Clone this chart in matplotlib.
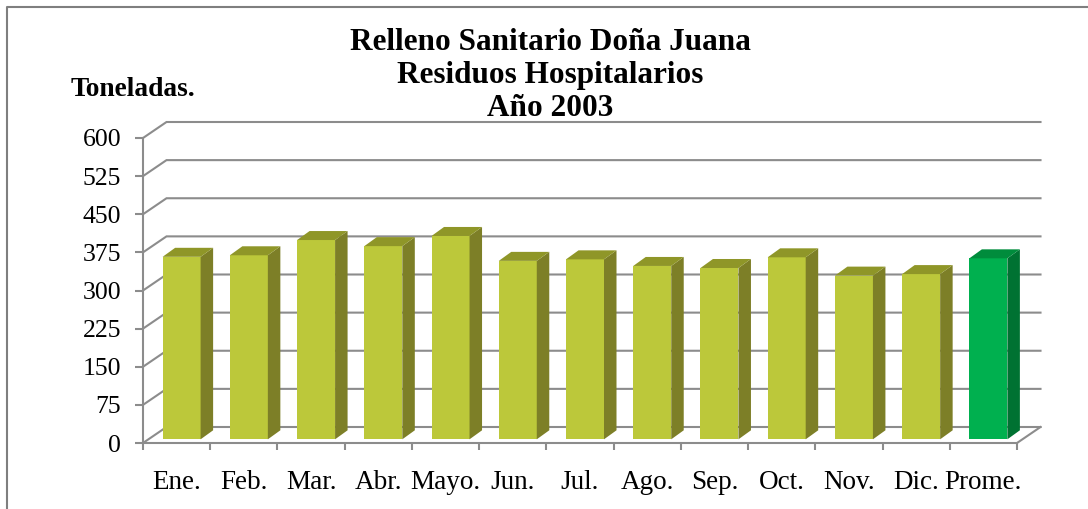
import matplotlib
matplotlib.use("Agg")
import matplotlib.pyplot as plt
from matplotlib.lines import Line2D

months = ["Ene.", "Feb.", "Mar.", "Abr.", "Mayo.", "Jun.", "Jul.", "Ago.", "Sep.", "Oct.", "Nov.", "Dic.", "Prome."]
tons = [359, 362, 392, 380, 400, 351, 354, 341, 337, 358, 322, 325, 356]
yticks = [0, 75, 150, 225, 300, 375, 450, 525, 600]
title_lines = ["Relleno Sanitario Doña Juana", "Residuos Hospitalarios", "Año 2003"]

W, H = 1088, 509
plt.rcParams["font.family"] = ["Liberation Serif", "DejaVu Serif"]
fig = plt.figure(figsize=(W / 100, H / 100), dpi=100, facecolor="white")
L, R, T, B = 143, 1017, 138, 443
ax = fig.add_axes([L / W, 1 - B / H, (R - L) / W, (B - T) / H])
ax.set_xlim(0, len(months))
ax.set_ylim(0, 600)
ax.patch.set_alpha(0)

ux = (R - L) / len(months)
uy = (B - T) / 600
dx = lambda px: px / ux
dy = lambda px: px / uy

GRID = "#8C8C8C"
lw = 1.5
# back wall and left wall
wall_x, wall_y = dx(23.5), dy(16)
for v in yticks:
    ax.plot([0, wall_x, len(months) + wall_x], [v, v + wall_y, v + wall_y], color=GRID, lw=lw,
            clip_on=False, zorder=1, solid_joinstyle="miter")
ax.plot([len(months), len(months) + wall_x], [0, wall_y], color=GRID, lw=lw, clip_on=False, zorder=1)

# bars with depth
front_off_x, front_off_y = dx(5), dy(3.7)
bw = dx(38)
side_x, side_y = dx(12.5), dy(9)
for i, (m, v) in enumerate(zip(months, tons)):
    last = i == len(months) - 1
    front = "#00B04F" if last else "#BCC83A"
    side = "#007232" if last else "#7D7F27"
    top = "#008C3C" if last else "#8F9628"
    xc = i + 0.5 + front_off_x
    x0, x1 = xc - bw / 2, xc + bw / 2
    y0, y1 = front_off_y, front_off_y + v
    ax.bar(xc, v, width=bw, bottom=y0, color=front, linewidth=0, zorder=3, clip_on=False)
    ax.fill([x1, x1 + side_x, x1 + side_x, x1], [y0, y0 + side_y, y1 + side_y, y1], color=side, lw=0, zorder=3, clip_on=False)
    ax.fill([x0, x1, x1 + side_x, x0 + side_x], [y1, y1, y1 + side_y, y1 + side_y], color=top, lw=0, zorder=3, clip_on=False)

# axes
for s in ("top", "right"):
    ax.spines[s].set_visible(False)
for s in ("left", "bottom"):
    ax.spines[s].set_color(GRID)
    ax.spines[s].set_linewidth(lw)
    ax.spines[s].set_zorder(4)
ax.set_yticks(yticks)
ax.set_yticklabels([str(v) for v in yticks], fontsize=18.5, color="black")
ax.tick_params(axis="y", length=5.8, width=lw, color=GRID, pad=10)
ax.set_xticks(range(len(months) + 1))
ax.set_xticklabels([])
ax.tick_params(axis="x", which="major", length=5, width=lw, color=GRID)
ax.set_xticks([i + 0.5 for i in range(len(months))], minor=True)
ax.set_xticklabels(months, minor=True, fontsize=19.5, color="black")
ax.tick_params(axis="x", which="minor", length=0, pad=19.5)

# titles
for line, y in zip(title_lines, (43, 76, 109)):
    fig.text(550 / W, 1 - y / H, line, ha="center", va="center", fontsize=22.5, fontweight="bold", color="black")
fig.text(71 / W, 1 - 89.5 / H, "Toneladas.", ha="left", va="center", fontsize=19.7, fontweight="bold", color="black")

# frame
fig.add_artist(Line2D([7 / W, 7 / W, 1], [0, 1 - 6.5 / H, 1 - 6.5 / H], color="#7F7F7F", lw=1.5))

fig.savefig("out.png", dpi=100)
